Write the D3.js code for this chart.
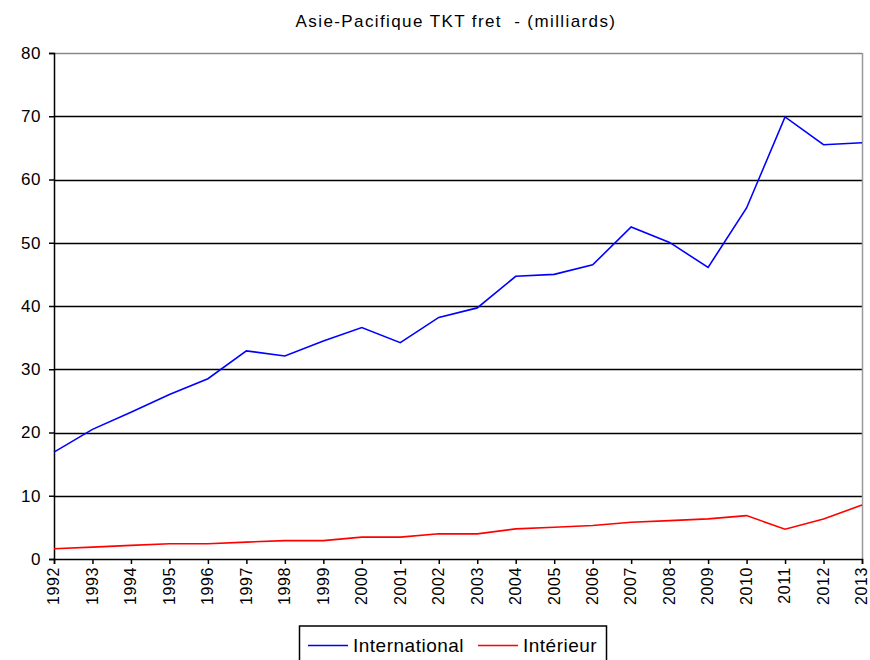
<!DOCTYPE html>
<html><head><meta charset="utf-8">
<script src="https://cdn.jsdelivr.net/npm/d3@7"></script>
<style>body{margin:0;background:#fff}svg{display:block}</style>
</head><body>
<script>
const years = [1992,1993,1994,1995,1996,1997,1998,1999,2000,2001,2002,2003,2004,2005,2006,2007,2008,2009,2010,2011,2012,2013];
const international = [16.9,20.5,23.2,26.0,28.5,32.9,32.1,34.45,36.6,34.2,38.2,39.7,44.7,45.0,46.5,52.5,50.05,46.1,55.5,69.9,65.5,65.8];
const interieur = [1.62,1.88,2.15,2.4,2.4,2.67,2.9,2.9,3.46,3.46,3.98,3.98,4.76,5.03,5.29,5.81,6.07,6.34,6.86,4.71,6.34,8.53];
const yTicks = [0,10,20,30,40,50,60,70,80];
const seriesNames = ["International","Intérieur"];
const colors = ["#0000ff","#ff0000"];

const W=870,H=660;
const svg=d3.select("body").append("svg").attr("width",W).attr("height",H)
  .style("font-family","'Liberation Sans', Arial, sans-serif");
const L=54,R=862,T=53,B=559;
const x=d3.scaleLinear().domain([years[0],years[years.length-1]]).range([L,R]);
const y=d3.scaleLinear().domain([0,80]).range([B,T]);

svg.append("text").attr("x",456).attr("y",27).attr("text-anchor","middle")
  .attr("xml:space","preserve").style("white-space","pre")
  .style("font-size","17px").style("letter-spacing","1.4px")
  .text("Asie-Pacifique TKT fret  - (milliards)");

// gridlines
svg.append("g").selectAll("line").data(yTicks.filter(d=>d>0)).join("line")
  .attr("x1",L).attr("x2",R).attr("y1",d=>Math.round(y(d))+0.5).attr("y2",d=>Math.round(y(d))+0.5)
  .attr("stroke",d=>d===80?"#888":"#000").attr("stroke-width",1.5);
// right border
svg.append("line").attr("x1",R+0.5).attr("x2",R+0.5).attr("y1",T).attr("y2",B).attr("stroke","#999").attr("stroke-width",1.5);

// y axis
const ya=svg.append("g").attr("transform",`translate(${L},0)`)
  .call(d3.axisLeft(y).tickValues(yTicks).tickSize(5).tickPadding(8).tickFormat(d3.format("d")));
ya.select(".domain").attr("stroke","#000").attr("stroke-width",1.5);
ya.selectAll(".tick line").attr("stroke","#000").attr("stroke-width",1.5);
ya.selectAll("text").style("font-size","17px").style("letter-spacing","0.5px").attr("fill","#000");

// x axis
const xa=svg.append("g").attr("transform",`translate(0,${B})`)
  .call(d3.axisBottom(x).tickValues(years).tickSize(5).tickFormat(d3.format("d")));
xa.select(".domain").attr("stroke","#000").attr("stroke-width",1.5);
xa.selectAll(".tick line").attr("stroke","#000").attr("stroke-width",1.5);
xa.selectAll("text").style("font-size","16px").style("letter-spacing","0.6px").attr("fill","#000")
  .attr("transform","rotate(-90)").attr("text-anchor","end").attr("x",-8).attr("y",0).attr("dy","0.3em");

const line=d3.line().x((d,i)=>x(years[i])).y(d=>y(d));
[international,interieur].forEach((s,k)=>{
  svg.append("path").datum(s).attr("d",line).attr("fill","none")
    .attr("stroke",colors[k]).attr("stroke-width",1.6);
});

// legend
const lg=svg.append("g");
lg.append("rect").attr("x",299.5).attr("y",626).attr("width",307).attr("height",50)
  .attr("fill","#fff").attr("stroke","#000").attr("stroke-width",1.5);
const lx=[308,478];
seriesNames.forEach((n,k)=>{
  lg.append("line").attr("x1",lx[k]).attr("x2",lx[k]+40).attr("y1",645.5).attr("y2",645.5)
    .attr("stroke",colors[k]).attr("stroke-width",1.6);
  lg.append("text").attr("x",lx[k]+45).attr("y",652).style("font-size","19px")
    .style("letter-spacing","0.5px").text(n);
});
</script>
</body></html>
